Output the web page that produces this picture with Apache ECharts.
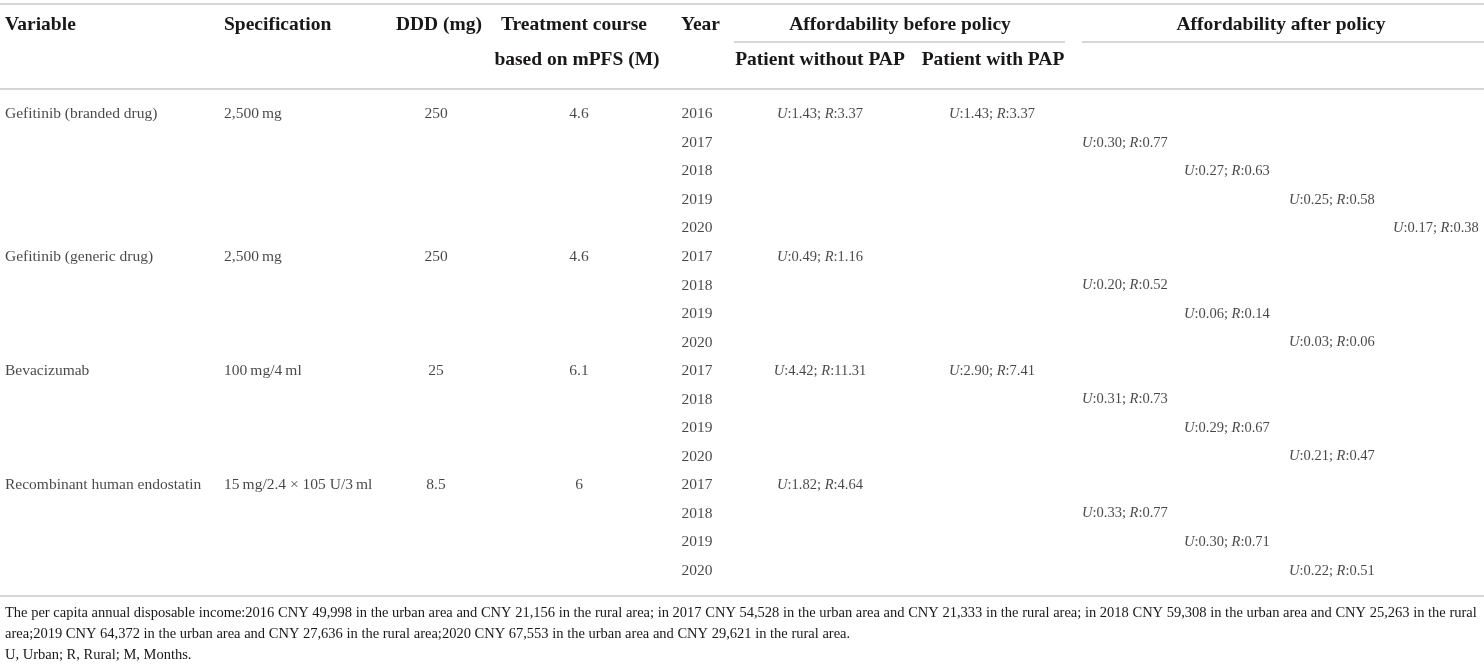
<!DOCTYPE html>
<html>
<head>
<meta charset="utf-8">
<script src="https://cdn.jsdelivr.net/npm/echarts@6/dist/echarts.min.js"></script>
<style>
html,body{margin:0;padding:0;background:#fff;}
#chart{width:1484px;height:666px;}
</style>
</head>
<body>
<div id="chart"></div>
<script>
// ---------------- data ----------------
const drugs = ['Gefitinib (branded drug)', 'Gefitinib (generic drug)', 'Bevacizumab', 'Recombinant human endostatin'];
const specs = ['2,500\u2009mg', '2,500\u2009mg', '100\u2009mg/4\u2009ml', '15\u2009mg/2.4 \u00d7 105 U/3\u2009ml'];
const ddd = ['250', '250', '25', '8.5'];
const courseMonths = ['4.6', '4.6', '6.1', '6'];
const rowDrug = [0,0,0,0,0, 1,1,1,1, 2,2,2,2, 3,3,3,3];
const rowYear = [2016,2017,2018,2019,2020, 2017,2018,2019,2020, 2017,2018,2019,2020, 2017,2018,2019,2020];
const beforeNoPapU = [1.43,null,null,null,null, 0.49,null,null,null, 4.42,null,null,null, 1.82,null,null,null];
const beforeNoPapR = [3.37,null,null,null,null, 1.16,null,null,null, 11.31,null,null,null, 4.64,null,null,null];
const beforePapU   = [1.43,null,null,null,null, null,null,null,null, 2.90,null,null,null, null,null,null,null];
const beforePapR   = [3.37,null,null,null,null, null,null,null,null, 7.41,null,null,null, null,null,null,null];
const afterU = [null,0.30,0.27,0.25,0.17, null,0.20,0.06,0.03, null,0.31,0.29,0.21, null,0.33,0.30,0.22];
const afterR = [null,0.77,0.63,0.58,0.38, null,0.52,0.14,0.06, null,0.73,0.67,0.47, null,0.77,0.71,0.51];

const headerRow1 = ['Variable', 'Specification', 'DDD (mg)', 'Treatment course', 'Year', 'Affordability before policy', 'Affordability after policy'];
const headerRow2 = ['based on mPFS (M)', 'Patient without PAP', 'Patient with PAP'];
const footnotes = [
  'The per capita annual disposable income:2016 CNY 49,998 in the urban area and CNY 21,156 in the rural area; in 2017 CNY 54,528 in the urban area and CNY 21,333 in the rural area; in 2018 CNY 59,308 in the urban area and CNY 25,263 in the rural',
  'area;2019 CNY 64,372 in the urban area and CNY 27,636 in the rural area;2020 CNY 67,553 in the urban area and CNY 29,621 in the rural area.',
  'U, Urban; R, Rural; M, Months.'
];

// ---------------- layout ----------------
const COL = { variable: 5, spec: 224, ddd: 436, course: 579, year: 697, noPap: 820, pap: 992, after: [1082, 1184, 1289, 1393] };
const TXT = '#1a1718';
const FONT = 'Liberation Serif';
const LINE = '#c8c8c8';
const SIZE_TEXT = 15.5;
const SIZE_VAL = 14.5;

// ---------------- build cells ----------------
const fmt = (u, r) => '{i|U}:' + u.toFixed(2) + '; {i|R}:' + r.toFixed(2);
const cells = [];
const slot = {};
rowDrug.forEach((d, r) => {
  const first = r === 0 || rowDrug[r - 1] !== d;
  if (first) {
    cells.push({ value: [COL.variable, r], text: drugs[d], align: 'left', size: SIZE_TEXT });
    cells.push({ value: [COL.spec, r], text: specs[d], align: 'left', size: SIZE_TEXT });
    cells.push({ value: [COL.ddd, r], text: ddd[d], align: 'center', size: SIZE_TEXT });
    cells.push({ value: [COL.course, r], text: courseMonths[d], align: 'center', size: SIZE_TEXT });
    slot[d] = 0;
  }
  cells.push({ value: [COL.year, r], text: String(rowYear[r]), align: 'center', size: SIZE_TEXT });
  if (beforeNoPapU[r] != null) cells.push({ value: [COL.noPap, r], text: fmt(beforeNoPapU[r], beforeNoPapR[r]), align: 'center', size: SIZE_VAL });
  if (beforePapU[r] != null) cells.push({ value: [COL.pap, r], text: fmt(beforePapU[r], beforePapR[r]), align: 'center', size: SIZE_VAL });
  if (afterU[r] != null) {
    cells.push({ value: [COL.after[slot[d]], r], text: fmt(afterU[r], afterR[r]), align: 'left', size: SIZE_VAL });
    slot[d]++;
  }
});
const seriesData = cells.map(c => ({
  value: c.value, text: c.text,
  label: { align: c.align, fontSize: c.size, rich: { i: { fontStyle: 'italic', fontFamily: FONT, fontSize: c.size, color: TXT } } }
}));

// ---------------- graphics (headers, rules, footnotes) ----------------
const hdr = (text, x, y, align) => ({
  type: 'text', x: x, y: y, silent: true,
  style: { text: text, fill: TXT, font: 'bold 19.5px "' + FONT + '"', textAlign: align, textVerticalAlign: 'middle' }
});
const rule = (x1, x2, y) => ({
  type: 'line', silent: true,
  shape: { x1: x1, y1: y, x2: x2, y2: y },
  style: { stroke: LINE, lineWidth: 1.6 }
});
const graphics = [
  rule(0, 1484, 4),
  rule(734, 1065, 42),
  rule(1082, 1484, 42),
  rule(0, 1484, 89),
  rule(0, 1484, 596),
  hdr(headerRow1[0], 5, 25, 'left'),
  hdr(headerRow1[1], 224, 25, 'left'),
  hdr(headerRow1[2], 439, 25, 'center'),
  hdr(headerRow1[3], 574, 25, 'center'),
  hdr(headerRow1[4], 681, 25, 'left'),
  hdr(headerRow1[5], 900, 25, 'center'),
  hdr(headerRow1[6], 1281, 25, 'center'),
  hdr(headerRow2[0], 577, 60, 'center'),
  hdr(headerRow2[1], 820, 60, 'center'),
  hdr(headerRow2[2], 993, 60, 'center')
];
footnotes.forEach((t, i) => {
  graphics.push({
    type: 'text', x: 5, y: 613 + i * 21, silent: true,
    style: { text: t, fill: TXT, font: '14.5px "' + FONT + '"', textAlign: 'left', textVerticalAlign: 'middle' }
  });
});

// ---------------- chart ----------------
const chart = echarts.init(document.getElementById('chart'), null, { renderer: 'canvas' });
chart.setOption({
  animation: false,
  backgroundColor: '#ffffff',
  grid: { left: 0, right: 0, top: 100, height: 485, containLabel: false },
  xAxis: { type: 'value', min: 0, max: 1484, show: false },
  yAxis: { type: 'category', data: rowYear.map((y, i) => 'r' + i), inverse: true, show: false },
  series: [{
    type: 'scatter',
    symbolSize: 1,
    itemStyle: { color: 'rgba(0,0,0,0)' },
    data: seriesData,
    label: {
      show: true,
      position: 'inside',
      verticalAlign: 'middle',
      formatter: p => p.data.text,
      color: TXT,
      fontFamily: FONT,
      fontSize: SIZE_TEXT
    },
    emphasis: { disabled: true }
  }],
  graphic: graphics
});
</script>
</body>
</html>
